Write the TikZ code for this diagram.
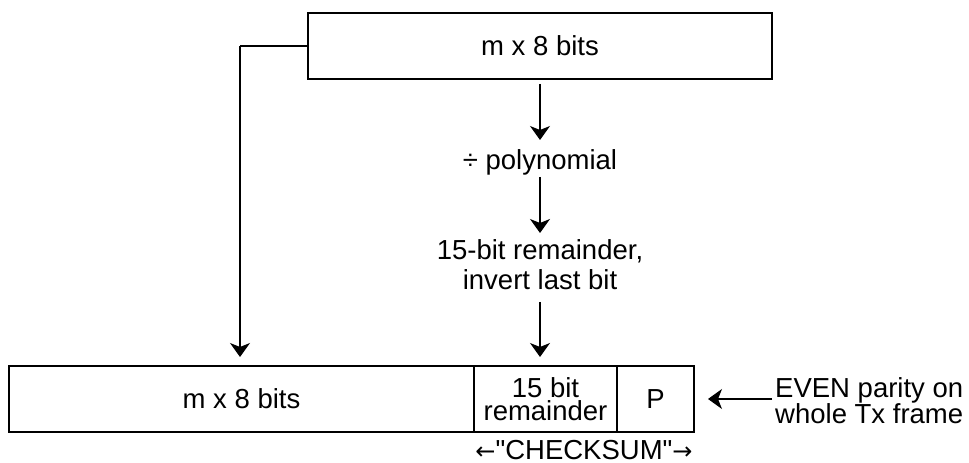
\documentclass[tikz,border=0pt]{standalone}
\usepackage{fontspec}
\setmainfont{Liberation Sans}[Ligatures=TeXOff]
\newfontfamily\arrowfont{DejaVu Sans}
\usetikzlibrary{arrows.meta}
\begin{document}
\begin{tikzpicture}[x=1pt,y=1pt,
  box/.style={draw, line width=1.4pt, inner sep=0pt, anchor=center},
  lbl/.style={font=\fontsize{27.5}{27.5}\selectfont, align=center, inner sep=0pt},
  conn/.style={line width=1.2pt, -{Stealth[length=14pt,width=20pt,inset=4pt]}},
  plain/.style={line width=1.2pt}]
\useasboundingbox (0,0) rectangle (969,463);
% top box
\node[box, minimum width=464pt, minimum height=66pt] (top) at (540,417) {};
\node[lbl] (toptxt) at (540,417) {m x 8 bits};
% bottom frame cells
\node[box, minimum width=465pt, minimum height=66pt] (c1) at (241.5,64) {};
\node[box, minimum width=143pt, minimum height=66pt] (c2) at (545.5,64) {};
\node[box, minimum width=77pt, minimum height=66pt] (c3) at (655.5,64) {};
\node[lbl] (c1t) at (c1) {m x 8 bits};
\node[lbl, font=\fontsize{27.5}{23.5}\selectfont] (c2t) at (c2) {15 bit\\remainder};
\node[lbl] (c3t) at (c3) {P};
% middle texts
\node[lbl] (poly) at (540,301) {÷ polynomial};
\node[lbl, font=\fontsize{27.5}{30}\selectfont] (rem) at (540,198) {15-bit remainder,\\invert last bit};
% parity text
\node[lbl, anchor=west, font=\fontsize{27.5}{26}\selectfont, align=left] (par) at (775,62) {EVEN parity on\\whole Tx frame};
% checksum label
\node[lbl, anchor=base] (chk) at (584,3) {{\arrowfont\fontsize{24}{24}\selectfont ←}"CHECKSUM"{\arrowfont\fontsize{24}{24}\selectfont →}};
% coordinates
\coordinate (lc) at (240,417);
\coordinate (la) at (240,106);
\coordinate (a1s) at (540,379);
\coordinate (a1e) at (540,323);
\coordinate (a2s) at (540,286);
\coordinate (a2e) at (540,230);
\coordinate (a3s) at (540,161);
\coordinate (a3e) at (540,106);
\coordinate (ps) at (772,64);
\coordinate (pe) at (708,64);
% connectors
\draw[plain] (top.west) -- (lc);
\draw[conn] (lc) -- (la);
\draw[conn] (a1s) -- (a1e);
\draw[conn] (a2s) -- (a2e);
\draw[conn] (a3s) -- (a3e);
\draw[conn] (ps) -- (pe);
\end{tikzpicture}
\end{document}
